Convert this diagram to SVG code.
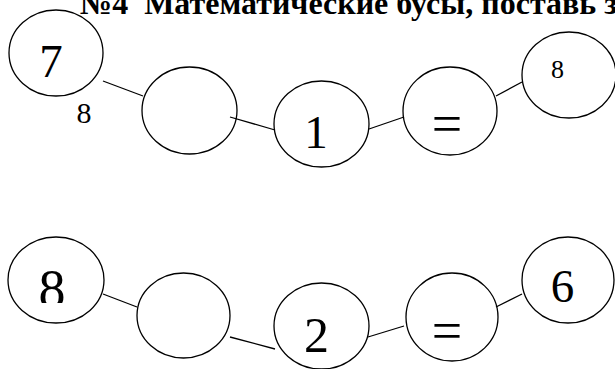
<svg xmlns="http://www.w3.org/2000/svg" width="615" height="369" viewBox="0 0 615 369">
<style>
.bead{fill:none;stroke:#000;stroke-width:1.3}
.link{stroke:#000;stroke-width:1.3;fill:none}
.t{font-family:"Liberation Serif","Times New Roman",serif;fill:#000;text-anchor:middle}
.big{font-size:47px}
.small{font-size:26px}
.eq{font-size:54px}
.title{font-family:"Liberation Serif","Times New Roman",serif;font-weight:bold;font-size:32px;white-space:pre}
</style>
<defs>
<clipPath id="clip8"><rect x="0" y="230" width="120" height="73"/></clipPath>
</defs>
<text class="title" x="80" y="14">№4  Математические бусы, поставь з</text>
<g id="connectors">
<line class="link" x1="103" y1="81" x2="143" y2="96"/>
<line class="link" x1="230" y1="117" x2="275" y2="130"/>
<line class="link" x1="369" y1="129" x2="404" y2="117"/>
<line class="link" x1="496" y1="96" x2="522" y2="82"/>
<line class="link" x1="103" y1="294" x2="137" y2="307"/>
<line class="link" x1="230" y1="337" x2="275" y2="349"/>
<line class="link" x1="368" y1="337" x2="404" y2="326"/>
<line class="link" x1="496" y1="307" x2="522" y2="294"/>
</g>
<g id="n1"><ellipse class="bead" cx="56" cy="53" rx="47" ry="43"/><text class="t big" x="51" y="77">7</text></g>
<text class="t" style="font-size:30px" x="84" y="123">8</text>
<g id="n2"><ellipse class="bead" cx="189.5" cy="110.5" rx="47.5" ry="43.5"/></g>
<g id="n3"><ellipse class="bead" cx="321.5" cy="124" rx="47.5" ry="43"/><text class="t big" x="316" y="148">1</text></g>
<g id="n4"><ellipse class="bead" cx="450" cy="111" rx="47" ry="44"/><text class="t eq" x="447" y="142">=</text></g>
<g id="n5"><ellipse class="bead" cx="569" cy="75" rx="47" ry="43"/><text class="t small" x="557.5" y="78">8</text></g>
<g id="m1"><ellipse class="bead" cx="56" cy="280" rx="48" ry="43"/><text class="t" style="font-size:54px" x="52" y="306.5" clip-path="url(#clip8)">8</text></g>
<g id="m2"><ellipse class="bead" cx="183.5" cy="315.5" rx="46.5" ry="42.5"/></g>
<g id="m3"><ellipse class="bead" cx="321.5" cy="326" rx="47.5" ry="43"/><text class="t" style="font-size:50px" x="316.5" y="352">2</text></g>
<g id="m4"><ellipse class="bead" cx="452" cy="317" rx="46" ry="44"/><text class="t eq" x="447" y="349">=</text></g>
<g id="m5"><ellipse class="bead" cx="568" cy="280" rx="46" ry="43"/><text class="t big" x="562.5" y="302">6</text></g>
</svg>
